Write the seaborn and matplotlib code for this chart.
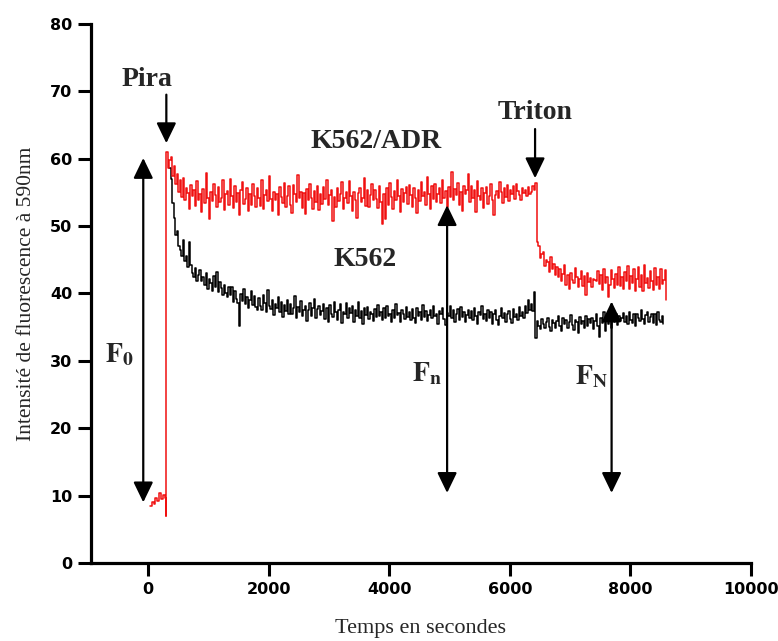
import numpy as np
import pandas as pd
import matplotlib
matplotlib.use("Agg")
import matplotlib.pyplot as plt
import seaborn as sns

# ---- data ----
red_base_t = [30, 60, 90, 120, 150, 180, 210, 240, 270, 295]
red_base_v = [8.4, 9.1, 8.7, 9.6, 9.2, 10.4, 9.5, 10.1, 9.7, 7.0]

# K562/ADR trace, sampled every 25 s from t = 300 s
red_t0, red_dt = 300, 25
red_v = [
    61.0, 58.6, 59.8, 60.3, 57.4, 58.9, 56.2, 57.8, 55.1, 56.9, 54.3, 57.2, 53.8, 55.6, 54.9, 52.6, 56.1, 54.4, 55.3, 53.0,
    56.7, 53.9, 54.8, 52.1, 55.5, 53.4, 57.9, 54.2, 51.1, 55.0, 53.7, 56.3, 54.6, 52.9, 55.8, 53.5, 54.1, 56.8, 52.4, 54.7,
    55.2, 53.1, 57.0, 54.5, 52.7, 55.9, 53.6, 54.9, 51.7, 55.4, 56.6, 53.3, 54.0, 55.7, 52.3, 54.8, 53.2, 56.2, 54.4, 52.8,
    55.6, 54.1, 53.0, 56.9, 52.5, 54.6, 55.3, 53.7, 57.4, 54.0, 52.2, 55.1, 53.9, 54.7, 51.6, 55.8, 54.3, 53.4, 56.4, 52.9,
    54.5, 55.9, 53.2, 52.0, 56.1, 54.8, 53.6, 57.6, 54.2, 55.0, 52.7, 54.9, 51.8, 55.5, 53.8, 56.3, 54.1, 52.6, 55.2, 53.5,
    56.0, 52.4, 54.7, 53.3, 55.8, 54.0, 56.9, 53.1, 54.6, 55.4, 50.8, 54.3, 52.9, 55.6, 53.7, 54.8, 56.5, 52.6, 54.2, 55.1,
    53.4, 56.7, 54.5, 52.3, 55.0, 53.8, 51.2, 54.9, 55.7, 53.6, 54.1, 57.1, 53.0, 55.3, 52.8, 54.6, 56.2, 53.9, 55.4, 54.0,
    52.7, 55.9, 53.5, 50.3, 54.8, 51.0, 55.6, 53.2, 56.4, 54.3, 52.5, 55.2, 53.8, 56.8, 54.4, 52.1, 55.5, 53.6, 54.9, 55.8,
    53.3, 56.1, 54.6, 52.9, 55.7, 54.2, 51.9, 55.4, 53.7, 56.6, 54.5, 55.0, 53.1, 57.3, 54.8, 52.6, 55.9, 54.0, 56.3, 53.5,
    54.7, 55.6, 53.4, 56.9, 54.1, 55.2, 52.8, 55.8, 54.3, 58.0, 53.9, 55.5, 54.6, 56.4, 53.2, 55.1, 52.3, 56.0, 54.8, 55.4,
    57.7, 53.6, 55.9, 54.2, 55.3, 52.1, 56.7, 54.5, 53.8, 55.6, 52.7, 54.9, 55.8, 53.3, 54.4, 56.2, 53.9, 51.6, 54.6, 55.2,
    54.1, 56.5, 55.0, 53.4, 55.7, 54.3, 56.1, 53.7, 55.4, 54.8, 55.9, 54.0, 56.3, 55.2, 54.6, 53.8, 55.6, 54.9, 55.3, 54.4,
    55.8, 54.7, 55.1, 56.0, 55.4, 56.4, 47.6, 47.0, 45.3, 45.9, 46.2, 44.1, 45.0, 44.6, 43.2, 45.4, 43.7, 44.3, 42.8, 43.9,
    42.5, 43.6, 41.8, 42.9, 44.2, 41.3, 42.7, 40.6, 43.1, 42.0, 41.5, 43.8, 42.4, 40.9, 42.2, 43.4, 41.1, 42.6, 39.8, 43.0,
    41.7, 42.3, 41.0, 42.1, 42.0, 41.9, 43.3, 41.4, 42.8, 40.5, 43.7, 41.6, 42.5, 39.5, 41.2, 43.5, 42.1, 40.8, 42.9, 41.3,
    43.9, 41.1, 42.4, 40.6, 43.2, 41.8, 44.1, 40.7, 42.6, 41.5, 43.6, 40.4, 42.2, 43.9, 41.0, 42.7, 40.3, 44.2, 41.6, 42.3,
    40.8, 43.4, 41.9, 40.5, 43.8, 41.2, 42.5, 40.6, 43.7, 41.4, 42.0, 43.5, 39.0,
]

# K562 trace, sampled every 25 s from t = 350 s
blk_t0, blk_dt = 350, 25
blk_v = [
    58.6, 57.0, 53.4, 51.2, 48.6, 49.3, 47.1, 46.4, 45.6, 47.9, 44.8, 45.5, 43.9, 47.6, 44.2, 43.1, 42.5, 43.8, 41.9, 42.7,
    43.5, 41.8, 42.4, 41.2, 43.0, 40.7, 42.1, 41.5, 40.4, 42.6, 41.0, 43.2, 40.2, 41.7, 40.8, 39.7, 41.3, 40.1, 39.4, 40.9,
    39.8, 41.0, 38.7, 40.3, 39.2, 38.6, 35.2, 39.9, 38.9, 40.6, 38.4, 39.5, 37.8, 39.1, 40.4, 38.3, 39.6, 38.0, 37.5, 39.3,
    38.1, 37.6, 39.8, 38.6, 37.3, 40.5, 38.2, 37.7, 39.0, 36.8, 38.5, 37.9, 39.4, 37.2, 38.7, 36.5, 38.3, 37.4, 39.1, 37.0,
    38.4, 36.9, 37.8, 39.6, 36.4, 38.0, 37.3, 38.9, 36.7, 37.6, 38.2, 35.9, 37.5, 38.6, 36.6, 37.9, 39.2, 36.3, 37.7, 38.1,
    36.8, 37.4, 38.5, 36.2, 37.9, 35.7, 38.3, 37.0, 36.5, 38.8, 37.2, 36.1, 37.6, 38.4, 35.6, 37.3, 36.9, 38.6, 36.4, 37.8,
    37.1, 38.2, 35.8, 37.5, 36.6, 38.7, 36.3, 37.4, 35.4, 37.9, 36.8, 38.0, 36.2, 37.3, 36.9, 35.9, 37.7, 36.5, 38.3, 36.7,
    37.2, 36.0, 37.8, 36.4, 38.1, 36.6, 37.0, 35.8, 37.5, 36.3, 38.4, 36.8, 37.1, 35.7, 37.6, 36.9, 36.2, 38.0, 36.5, 37.3,
    36.1, 37.7, 36.4, 35.6, 37.9, 36.7, 37.2, 36.0, 38.3, 36.5, 37.4, 35.9, 36.8, 37.6, 36.3, 38.1, 36.6, 37.0, 35.5, 37.4,
    36.9, 37.8, 36.2, 35.3, 37.1, 36.6, 38.2, 36.4, 37.5, 35.8, 36.9, 37.7, 36.1, 38.0, 36.5, 37.2, 35.7, 36.8, 37.6, 36.3,
    37.4, 36.0, 37.9, 36.6, 35.5, 37.3, 36.8, 38.1, 36.2, 37.0, 35.9, 37.6, 36.4, 37.2, 35.4, 36.9, 37.5, 36.1, 35.3, 36.7,
    37.8, 36.3, 37.1, 35.8, 36.9, 37.4, 36.2, 35.6, 37.7, 36.5, 37.0, 36.1, 38.0, 36.7, 37.3, 36.4, 38.2, 37.1, 39.0, 37.6,
    38.5, 37.4, 40.2, 33.4, 35.9, 35.1, 34.7, 36.2, 35.4, 34.9, 35.8, 36.4, 35.0, 34.5, 36.1, 35.6, 34.8, 35.9, 36.6, 35.2,
    34.4, 36.3, 35.5, 36.0, 34.9, 35.7, 36.8, 35.3, 34.6, 36.1, 35.8, 34.2, 36.5, 35.4, 35.9, 34.8, 36.7, 35.2, 36.2, 35.6,
    36.4, 34.7, 35.9, 36.9, 35.1, 33.5, 36.3, 35.6, 37.2, 34.5, 36.0, 35.4, 36.8, 34.9, 36.5, 35.7, 37.0, 35.3, 36.6, 35.9,
    36.3, 37.1, 35.8, 36.6, 35.4, 37.3, 36.1, 35.6, 36.9, 35.2, 37.0, 36.4, 35.9, 37.5, 36.2, 35.5, 36.8, 37.2, 35.7, 36.5,
    37.0, 35.6, 36.9, 35.3, 37.2, 36.1, 35.8, 36.7, 35.4,
]

x_ticks = [0, 2000, 4000, 6000, 8000, 10000]
y_ticks = [0, 10, 20, 30, 40, 50, 60, 70, 80]

red_t = list(red_base_t) + [red_t0 + red_dt * i for i in range(len(red_v))]
red_all = list(red_base_v) + list(red_v)
blk_t = [blk_t0 + blk_dt * i for i in range(len(blk_v))]

df_red = pd.DataFrame({"t": red_t, "v": red_all})
df_blk = pd.DataFrame({"t": blk_t, "v": blk_v})

# ---- figure ----
sns.set_style("ticks")
plt.rcParams["font.family"] = ["DejaVu Sans"]
plt.rcParams["mathtext.fontset"] = "stix"

fig = plt.figure(figsize=(7.78, 6.41), dpi=100)
ax = fig.add_axes([0.117, 0.1217, 0.848, 0.841])

sns.lineplot(data=df_blk, x="t", y="v", ax=ax, color="black", lw=1.1,
             drawstyle="steps-post", estimator=None, sort=False)
sns.lineplot(data=df_red, x="t", y="v", ax=ax, color="#f01010", lw=1.1,
             drawstyle="steps-post", estimator=None, sort=False)

ax.set_xlim(-950, 10000)
ax.set_ylim(0, 80)
ax.set_xticks(x_ticks)
ax.set_yticks(y_ticks)
ax.set_xticklabels([str(v) for v in x_ticks], fontweight="bold", fontsize=11.5)
ax.set_yticklabels([str(v) for v in y_ticks], fontweight="bold", fontsize=11.5)
ax.tick_params(axis="both", length=9.5, width=2.2, direction="out", pad=4, colors="black")
for s in ["left", "bottom"]:
    ax.spines[s].set_linewidth(2.3)
    ax.spines[s].set_color("black")
sns.despine(ax=ax)

ax.set_xlabel("Temps en secondes", family="Liberation Serif", fontsize=16, labelpad=16)
ax.set_ylabel("Intensité de fluorescence à 590nm", family="Liberation Serif", fontsize=15.5, labelpad=10)

# ---- annotations ----
lbl = dict(family="Liberation Serif", fontweight="bold", fontsize=20, ha="center", va="center")

def arrow(x0, y0, x1, y1, both=False):
    style = "<|-|>" if both else "-|>"
    ax.annotate("", xy=(x1, y1), xytext=(x0, y0),
                arrowprops=dict(arrowstyle=style + ",head_length=0.62,head_width=0.3",
                                mutation_scale=20, lw=1.6, color="black",
                                shrinkA=0, shrinkB=0))

ax.text(-20, 71.8, "Pira", **lbl)
arrow(300, 69.5, 300, 62.3)
ax.text(6420, 66.9, "Triton", **lbl)
arrow(6420, 64.4, 6420, 57.1)
ax.text(3780, 62.6, "K562/ADR", **lbl)
ax.text(3600, 45.0, "K562", **lbl)

arrow(-83, 9.0, -83, 60.1, both=True)
arrow(4960, 10.4, 4960, 53.1, both=True)
arrow(7690, 10.4, 7690, 38.8, both=True)

ax.text(-480, 31.0, r"$\mathbf{F}_{\mathbf{0}}$", fontsize=20, ha="center", va="center")
ax.text(4620, 28.1, r"$\mathbf{F}_{\mathbf{n}}$", fontsize=20, ha="center", va="center")
ax.text(7360, 27.8, r"$\mathbf{F}_{\mathbf{N}}$", fontsize=20, ha="center", va="center")

fig.savefig("out.png", dpi=100)
